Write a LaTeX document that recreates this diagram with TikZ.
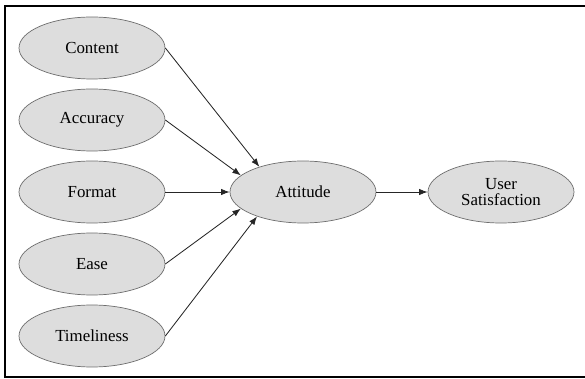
\documentclass[tikz,border=0pt]{standalone}
\usepackage{fontspec}
\setmainfont{Liberation Serif}
\usetikzlibrary{shapes.geometric,arrows.meta}
\definecolor{bubblegray}{RGB}{221,221,221}
\definecolor{rimgray}{RGB}{110,110,110}

\begin{document}
\begin{tikzpicture}[
    factor/.style={ellipse, draw=rimgray, fill=bubblegray, line width=0.5pt,
      minimum width=3.65cm, minimum height=1.55cm, inner sep=0pt,
      align=center, font=\fontsize{12}{11}\selectfont},
    link/.style={-{Latex[length=6pt,width=4.5pt]}, line width=0.6pt, draw=black!85}]
  \useasboundingbox (0,0) rectangle (14.625,-9.475);
  \draw[line width=1.8pt] (15,-0.15) -| (0.125,-9.42) -- (15,-9.42);

  \node (content)    at (2.3,-1.2)  [factor] {Content};
  \node (accuracy)   at (2.3,-3.0)  [factor] {Accuracy};
  \node (format)     at (2.3,-4.8)  [factor] {Format};
  \node (ease)       at (2.3,-6.6)  [factor] {Ease};
  \node (timeliness) at (2.3,-8.4)  [factor] {Timeliness};
  \node (attitude)   at (7.575,-4.8) [factor] {Attitude};
  \node (usersat)    at (12.525,-4.8) [factor] {User\\Satisfaction};

  \draw[link] (content.east)    -- (attitude.150);
  \draw[link] (accuracy.east)   -- (attitude.165);
  \draw[link] (format.east)     -- (attitude.west);
  \draw[link] (ease.east)       -- (attitude.195);
  \draw[link] (timeliness.east) -- (attitude.208);
  \draw[link] (attitude.east)   -- (usersat.west);
\end{tikzpicture}
\end{document}
